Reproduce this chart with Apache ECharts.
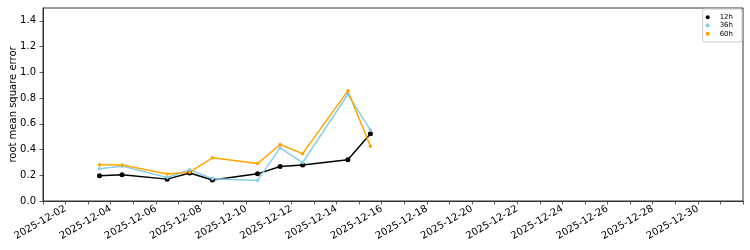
<!DOCTYPE html>
<html>
<head>
<meta charset="utf-8">
<script src="https://cdn.jsdelivr.net/npm/echarts@6/dist/echarts.min.js"></script>
<style>html,body{margin:0;padding:0;background:#fff;}#c{width:750px;height:250px;}</style>
</head>
<body>
<div id="c"></div>
<script>
// ---- data ----
const dates = ['2025-12-03T12:00', '2025-12-04T12:00', '2025-12-06T12:00', '2025-12-07T12:00', '2025-12-08T12:00',
               '2025-12-10T12:00', '2025-12-11T12:00', '2025-12-12T12:00', '2025-12-14T12:00', '2025-12-15T12:00'];
const rmse12h = [0.196, 0.204, 0.170, 0.217, 0.163, 0.211, 0.268, 0.279, 0.320, 0.522];
const rmse36h = [0.250, 0.271, 0.183, 0.243, 0.173, 0.160, 0.413, 0.299, 0.828, 0.551];
const rmse60h = [0.281, 0.279, 0.209, 0.224, 0.336, 0.291, 0.439, 0.368, 0.856, 0.426];
const seriesNames = ['12h', '36h', '60h'];
const xTickLabels = ['2025-12-02', '2025-12-04', '2025-12-06', '2025-12-08', '2025-12-10', '2025-12-12', '2025-12-14',
                     '2025-12-16', '2025-12-18', '2025-12-20', '2025-12-22', '2025-12-24', '2025-12-26', '2025-12-28', '2025-12-30'];
const yTicks = [0.0, 0.2, 0.4, 0.6, 0.8, 1.0, 1.2, 1.4];
const xStart = '2025-12-01';
const xEnd = '2026-01-01';
const yMin = 0, yMax = 1.5;

// ---- helpers ----
function ts(s) {
  const [d, t] = s.split('T');
  const [Y, M, D] = d.split('-').map(Number);
  let h = 0, m = 0;
  if (t) { [h, m] = t.split(':').map(Number); }
  return Date.UTC(Y, M - 1, D, h, m);
}
function fmt(v) {
  const d = new Date(v);
  const p = n => String(n).padStart(2, '0');
  return d.getUTCFullYear() + '-' + p(d.getUTCMonth() + 1) + '-' + p(d.getUTCDate());
}
const DAY = 86400000;
const xMinTs = ts(xStart), xMaxTs = ts(xEnd);
const labelTs = xTickLabels.map(ts);
const dayTicks = [];
for (let t = xMinTs; t <= xMaxTs; t += DAY) dayTicks.push(t);

const pts = arr => dates.map((d, i) => [ts(d), arr[i]]);
const FONT = 'DejaVu Sans';

const chart = echarts.init(document.getElementById('c'), null, { renderer: 'canvas' });
chart.setOption({
  animation: false,
  backgroundColor: '#fff',
  textStyle: { fontFamily: FONT },
  grid: { left: 43, right: 7, top: 8, bottom: 49, containLabel: false, outerBoundsMode: 'none',
          show: true, borderColor: '#333', borderWidth: 1, backgroundColor: 'transparent' },
  legend: {
    orient: 'vertical',
    right: 8,
    top: 9,
    padding: [4, 9, 4, 3],
    itemGap: 0,
    itemWidth: 14,
    itemHeight: 4,
    borderColor: '#ccc',
    borderWidth: 1,
    borderRadius: 2,
    backgroundColor: '#fff',
    textStyle: { fontFamily: FONT, fontSize: 7, color: '#000', lineHeight: 8.3 },
    data: seriesNames.map(n => ({ name: n, icon: 'circle' }))
  },
  xAxis: {
    type: 'value',
    min: xMinTs,
    max: xMaxTs,
    splitLine: { show: false },
    axisLine: { show: true, onZero: false, lineStyle: { color: '#333', width: 1 } },
    axisTick: { show: true, customValues: dayTicks, length: 3.5, lineStyle: { color: '#333', width: 0.8 } },
    axisLabel: {
      customValues: labelTs,
      formatter: v => fmt(v),
      rotate: 30,
      margin: 7,
      fontSize: 10,
      color: '#000',
      fontFamily: FONT,
      hideOverlap: false
    }
  },
  yAxis: {
    type: 'value',
    min: yMin,
    max: yMax,
    name: 'root mean square error',
    nameLocation: 'middle',
    nameGap: 25,
    nameMoveOverlap: false,
    nameTextStyle: { fontSize: 10, color: '#000', fontFamily: FONT },
    splitLine: { show: false },
    axisLine: { show: true, lineStyle: { color: '#333', width: 1 } },
    axisTick: { show: true, customValues: yTicks, length: 3.5, lineStyle: { color: '#333', width: 0.8 } },
    axisLabel: { customValues: yTicks, formatter: v => v.toFixed(1), margin: 7, fontSize: 10, color: '#000', fontFamily: FONT }
  },
  series: [
    { name: seriesNames[0], type: 'line', data: pts(rmse12h), color: '#000000', symbol: 'circle', symbolSize: 5,
      lineStyle: { width: 1.5 }, showAllSymbol: true },
    { name: seriesNames[1], type: 'line', data: pts(rmse36h), color: '#87CEEB', symbol: 'circle', symbolSize: 3.5,
      lineStyle: { width: 1.5 }, showAllSymbol: true },
    { name: seriesNames[2], type: 'line', data: pts(rmse60h), color: '#FFA500', symbol: 'circle', symbolSize: 3.5,
      lineStyle: { width: 1.5 }, showAllSymbol: true }
  ]
});
</script>
</body>
</html>
